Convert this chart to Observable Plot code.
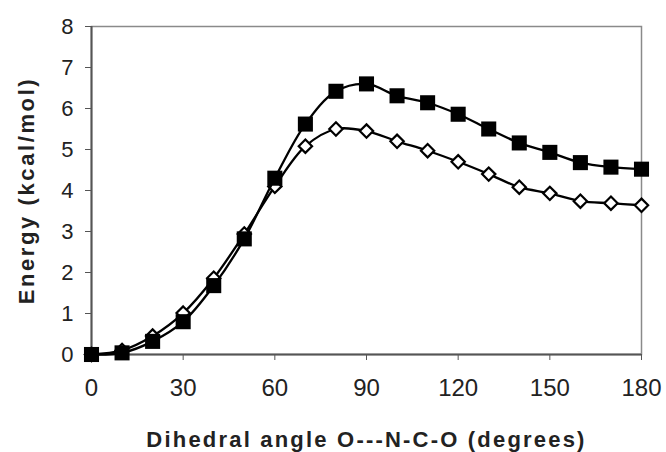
<!DOCTYPE html>
<html>
<head>
<meta charset="utf-8">
<script src="https://cdn.jsdelivr.net/npm/d3@7"></script>
<script src="https://cdn.jsdelivr.net/npm/@observablehq/plot@0.6"></script>
<style>
  html, body { margin: 0; padding: 0; background: #fff; }
  svg { font-family: "Liberation Sans", Arial, sans-serif; }
</style>
</head>
<body>
<div id="chart"></div>
<script>
const angles = [0, 10, 20, 30, 40, 50, 60, 70, 80, 90, 100, 110, 120, 130, 140, 150, 160, 170, 180];
const squareEnergy = [0, 0.04, 0.32, 0.8, 1.68, 2.82, 4.3, 5.62, 6.42, 6.6, 6.31, 6.14, 5.86, 5.5, 5.16, 4.93, 4.68, 4.57, 4.52];
const diamondEnergy = [0, 0.1, 0.45, 1.01, 1.86, 2.94, 4.1, 5.08, 5.5, 5.45, 5.2, 4.97, 4.7, 4.4, 4.08, 3.93, 3.74, 3.69, 3.64];
const xTicks = [0, 30, 60, 90, 120, 150, 180];
const yTicks = [0, 1, 2, 3, 4, 5, 6, 7, 8];
const xTitle = "Dihedral angle O---N-C-O (degrees)";
const yTitle = "Energy (kcal/mol)";

const sq = angles.map((a, i) => ({angle: a, energy: squareEnergy[i]}));
const di = angles.map((a, i) => ({angle: a, energy: diamondEnergy[i]}));

const chart = Plot.plot({
  width: 666,
  height: 452,
  marginLeft: 91,
  marginRight: 25,
  marginTop: 26,
  marginBottom: 98,
  x: {domain: [0, 180]},
  y: {domain: [0, 8]},
  marks: [
    Plot.frame({stroke: "#8a8a8a", strokeWidth: 1.5}),
    Plot.ruleX([0], {stroke: "#555", strokeWidth: 2}),
    Plot.ruleY([0], {stroke: "#555", strokeWidth: 2}),
    Plot.axisX({ticks: xTicks, tickSize: 6, tickPadding: 18, fontSize: 24, stroke: "#555", fill: "#222", label: null}),
    Plot.axisY({ticks: yTicks, tickSize: 6, tickPadding: 12, fontSize: 22, stroke: "#555", fill: "#222", label: null}),
    Plot.line(di, {x: "angle", y: "energy", curve: "catmull-rom", stroke: "#000", strokeWidth: 2.3}),
    Plot.dot(di, {x: "angle", y: "energy", symbol: "diamond2", r: 6, fill: "#fff", stroke: "#000", strokeWidth: 2.2}),
    Plot.line(sq, {x: "angle", y: "energy", curve: "catmull-rom", stroke: "#000", strokeWidth: 2.3}),
    Plot.dot(sq, {x: "angle", y: "energy", symbol: "square", r: 8.5, fill: "#000", stroke: "none"}),
    Plot.text([xTitle], {frameAnchor: "bottom", dy: 85, fontSize: 22, fontWeight: "bold", fill: "#222", lineAnchor: "middle", textAnchor: "middle"}),
    Plot.text([yTitle], {frameAnchor: "left", dx: -65, rotate: -90, fontSize: 22, fontWeight: "bold", fill: "#222", lineAnchor: "middle", textAnchor: "middle"})
  ]
});
d3.select(chart).selectAll("text").each(function () {
  const t = this.textContent;
  if (t === xTitle) this.setAttribute("letter-spacing", "2.2px");
  if (t === yTitle) this.setAttribute("letter-spacing", "2.6px");
});
document.getElementById("chart").appendChild(chart);
</script>
</body>
</html>
